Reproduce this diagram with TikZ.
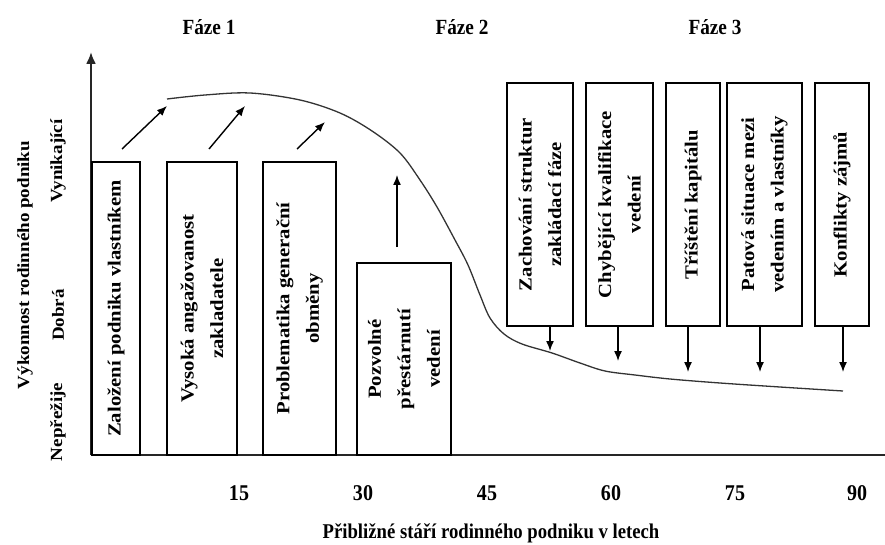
\documentclass[tikz,border=0pt]{standalone}
\usepackage{fontspec}
\setmainfont{Liberation Serif}
% narrow face for horizontal text, wide face for text set bottom-to-top
\newfontfamily\hfont[FakeStretch=0.89]{Liberation Serif}
\newfontfamily\vfont[FakeStretch=1.12]{Liberation Serif}
\usetikzlibrary{arrows.meta}

\tikzset{
  axisline/.style={line width=2.2pt, draw=black!85},
  stagebox/.style={draw=black, line width=2pt, rectangle, rotate=90,
    inner sep=0pt, align=center,
    font=\vfont\bfseries\fontsize{18.5}{29.5}\selectfont},
  arr/.style={line width=1.4pt, -{Latex[length=10pt,width=8pt]}},
  trend/.style={line width=1.3pt, draw=black!80},
  phase/.style={font=\hfont\bfseries\fontsize{21.6}{24}\selectfont, inner sep=0pt},
  tick/.style={font=\hfont\bfseries\fontsize{22.5}{24}\selectfont, inner sep=0pt},
  xlab/.style={font=\hfont\bfseries\fontsize{21}{24}\selectfont, inner sep=0pt},
  ylab/.style={rotate=90, font=\vfont\bfseries\fontsize{17}{20}\selectfont, inner sep=0pt},
}

\begin{document}
\begin{tikzpicture}[x=1pt, y=-1pt]
\useasboundingbox (0,0) rectangle (885,545);

% axes
\coordinate (O) at (91,455);
\coordinate (ytop) at (91,52);
\coordinate (xend) at (885,455);
\draw[axisline, -{Latex[length=12pt,width=10pt]}] (O) -- (ytop);
\draw[axisline] (O) -- (xend);

% phase headings
\node[phase] (f1) at (209,27) {Fáze 1};
\node[phase] (f2) at (462,27) {Fáze 2};
\node[phase] (f3) at (715,27) {Fáze 3};

% vertical axis labels
\node[ylab] (yl) at (25,265) {Výkonnost rodinného podniku};
\node[ylab] (lv1) at (58,161) {Vynikající};
\node[ylab] (lv2) at (58,315) {Dobrá};
\node[ylab] (lv3) at (58,422) {Nepřežije};

% horizontal axis labels
\node[tick] (t15) at (239,493) {15};
\node[tick] (t30) at (363,493) {30};
\node[tick] (t45) at (487,493) {45};
\node[tick] (t60) at (611,493) {60};
\node[tick] (t75) at (735,493) {75};
\node[tick] (t90) at (857,493) {90};
\node[xlab] (xl) at (491,533) {Přibližné stáří rodinného podniku v letech};

% trend of performance
\draw[trend] plot[smooth, tension=0.55] coordinates {
  (167,99) (205,95) (250,93) (300,100) (340,113) (372,131) (400,153)
  (420,180) (437,207) (455,240) (468,265) (480,295) (490,318) (504,334)
  (522,344) (552,353) (580,363) (605,371) (635,375) (670,379) (720,383)
  (780,387) (843,391)};

% phase 1 and 2 boxes
\node[stagebox, minimum width=293pt, minimum height=48pt] (b1) at (116,308.5)
  {Založení podniku vlastníkem};
\node[stagebox, minimum width=293pt, minimum height=70pt] (b2) at (202,308.5)
  {Vysoká angažovanost\\zakladatele};
\node[stagebox, minimum width=293pt, minimum height=73pt] (b3) at (299.5,308.5)
  {Problematika generační\\obměny};
\node[stagebox, minimum width=192pt, minimum height=94pt] (b4) at (404,359)
  {Pozvolné\\přestárnutí\\vedení};

% phase 3 boxes
\node[stagebox, minimum width=243pt, minimum height=66pt] (b5) at (540,204.5)
  {Zachování struktur\\zakládací fáze};
\node[stagebox, minimum width=243pt, minimum height=67pt] (b6) at (619.5,204.5)
  {Chybějící kvalifikace\\vedení};
\node[stagebox, minimum width=243pt, minimum height=54pt] (b7) at (693,204.5)
  {Tříštění kapitálu};
\node[stagebox, minimum width=243pt, minimum height=75pt] (b8) at (764.5,204.5)
  {Patová situace mezi\\vedením a vlastníky};
\node[stagebox, minimum width=243pt, minimum height=54pt] (b9) at (842,204.5)
  {Konflikty zájmů};

% rising arrows
\coordinate (u1a) at (122,149); \coordinate (u1b) at (167,106);
\coordinate (u2a) at (209,149); \coordinate (u2b) at (245,106);
\coordinate (u3a) at (297,149); \coordinate (u3b) at (325,122);
\coordinate (u4a) at (397,247); \coordinate (u4b) at (397,175);
\draw[arr] (u1a) -- (u1b);
\draw[arr] (u2a) -- (u2b);
\draw[arr] (u3a) -- (u3b);
\draw[arr] (u4a) -- (u4b);

% falling arrows below the phase 3 boxes
\coordinate (d5) at (550,351);
\coordinate (d6) at (618,361);
\coordinate (d7) at (688,372);
\coordinate (d8) at (760,372);
\coordinate (d9) at (843,372);
\draw[arr] (d5 |- b5.west) -- (d5);
\draw[arr] (d6 |- b6.west) -- (d6);
\draw[arr] (d7 |- b7.west) -- (d7);
\draw[arr] (d8 |- b8.west) -- (d8);
\draw[arr] (d9 |- b9.west) -- (d9);
\end{tikzpicture}
\end{document}
